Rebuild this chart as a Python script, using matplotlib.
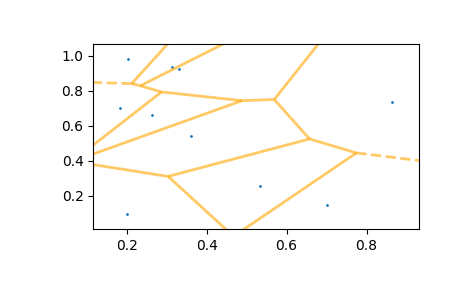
import numpy as np
import matplotlib
matplotlib.use("Agg")
import matplotlib.pyplot as plt
from matplotlib.collections import LineCollection
from itertools import combinations

# seed points
px = [0.204, 0.3135, 0.3295, 0.184, 0.264, 0.3615, 0.864, 0.534, 0.2015, 0.7015]
py = [0.980, 0.9365, 0.9226, 0.704, 0.659, 0.540, 0.737, 0.255, 0.096, 0.147]

pts = np.column_stack([px, py])
n = len(pts)

def circumcenter(a, b, c):
    d = 2 * (a[0]*(b[1]-c[1]) + b[0]*(c[1]-a[1]) + c[0]*(a[1]-b[1]))
    sa, sb, sc = a @ a, b @ b, c @ c
    ux = (sa*(b[1]-c[1]) + sb*(c[1]-a[1]) + sc*(a[1]-b[1])) / d
    uy = (sa*(c[0]-b[0]) + sb*(a[0]-c[0]) + sc*(b[0]-a[0])) / d
    return np.array([ux, uy])

# brute force delaunay: triangles whose circumcircle holds no other point
tris = []
verts = []
for i, j, k in combinations(range(n), 3):
    a, b, c = pts[i], pts[j], pts[k]
    area = (b[0]-a[0])*(c[1]-a[1]) - (b[1]-a[1])*(c[0]-a[0])
    if abs(area) < 1e-12:
        continue
    cc = circumcenter(a, b, c)
    r = np.linalg.norm(a - cc)
    others = [m for m in range(n) if m not in (i, j, k)]
    if np.all(np.linalg.norm(pts[others] - cc, axis=1) > r):
        tris.append((i, j, k))
        verts.append(cc)

edges = {}
for t, (i, j, k) in enumerate(tris):
    for e in [(i, j), (j, k), (i, k)]:
        edges.setdefault(tuple(sorted(e)), []).append(t)

center = pts.mean(axis=0)
ptp_bound = np.ptp(pts, axis=0)
finite_segments = []
infinite_segments = []
for (p0, p1), ts in edges.items():
    if len(ts) == 2:
        finite_segments.append([verts[ts[0]], verts[ts[1]]])
    else:
        v = verts[ts[0]]
        t = pts[p1] - pts[p0]
        t = t / np.linalg.norm(t)
        nrm = np.array([-t[1], t[0]])
        mid = pts[[p0, p1]].mean(axis=0)
        direction = np.sign(np.dot(mid - center, nrm)) * nrm
        aspect = abs(ptp_bound.max() / ptp_bound.min())
        far = v + direction * ptp_bound.max() * aspect
        infinite_segments.append([v, far])

fig = plt.figure(figsize=(4.65, 2.88), dpi=100)
ax = fig.add_axes([0.2006, 0.2038, 0.701, 0.644])
ax.plot(pts[:, 0], pts[:, 1], '.', markersize=2)
ax.add_collection(LineCollection(finite_segments, colors='orange', lw=2,
                                 alpha=0.6, linestyle='solid'))
ax.add_collection(LineCollection(infinite_segments, colors='orange', lw=2,
                                 alpha=0.6, linestyle='dashed'))
margin = 0.1 * ptp_bound
ax.set_xlim(pts[:, 0].min() - margin[0], pts[:, 0].max() + margin[0])
ax.set_ylim(pts[:, 1].min() - margin[1], pts[:, 1].max() + margin[1])

fig.savefig("out.png")
